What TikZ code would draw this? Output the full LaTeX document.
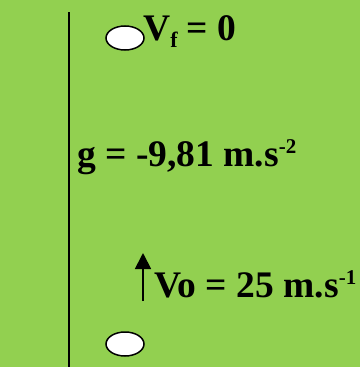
\documentclass[tikz,border=0pt]{standalone}
\usepackage{fontspec}
\setmainfont{Liberation Serif}
\usetikzlibrary{shapes.geometric,arrows.meta}
\definecolor{bggreen}{HTML}{92D050}
\newcommand{\myup}[1]{\raisebox{13pt}{\fontsize{21}{21}\selectfont #1}}
\newcommand{\mydown}[1]{\raisebox{-7pt}{\fontsize{22}{22}\selectfont #1}}
\tikzset{
  ball/.style={ellipse, draw=black, line width=1.5pt, fill=white, minimum width=38pt, minimum height=24pt, inner sep=0pt},
  lbl/.style={anchor=base west, inner sep=0pt, font=\fontsize{37.5}{40}\selectfont\bfseries},
}
\begin{document}
\begin{tikzpicture}[x=1pt,y=-1pt]
\fill[bggreen] (0,0) rectangle (360,367);
\useasboundingbox (0,0) rectangle (360,367);
\coordinate (ltop) at (69,12);
\coordinate (lbot) at (69,367);
\draw[line width=1.8pt] (ltop) -- (lbot);
\node[ball] (btop) at (125,38) {};
\node[ball] (bbot) at (125,344) {};
\node[lbl] (vf) at (143,40) {V\mydown{f} = 0};
\node[lbl] (g) at (77,166) {g = -9,81 m.s\myup{-2}};
\node[lbl] (vo) at (154,297) {Vo = 25 m.s\myup{-1}};
\coordinate (ab) at (143,301);
\coordinate (at) at (143,253);
\draw[line width=1.8pt, -{Triangle[width=16pt,length=16pt]}] (ab) -- (at);
\end{tikzpicture}
\end{document}
